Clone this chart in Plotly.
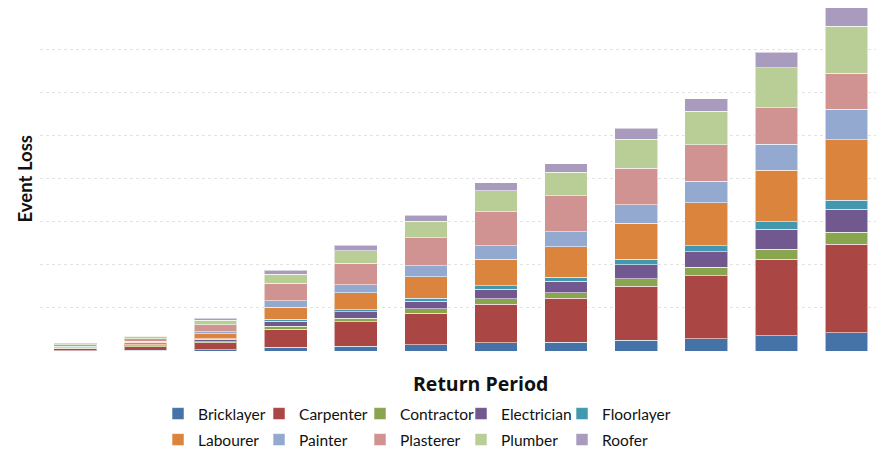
import plotly.graph_objects as go

return_periods = ["10", "20", "50", "100", "200", "250", "500", "1000", "2000", "5000", "10000", "20000"]

trades = ["Bricklayer", "Carpenter", "Contractor", "Electrician", "Floorlayer",
          "Labourer", "Painter", "Plasterer", "Plumber", "Roofer"]

bricklayer = [0.01, 0.02, 0.03, 0.09, 0.11, 0.14, 0.19, 0.20, 0.25, 0.29, 0.36, 0.42]
carpenter = [0.04, 0.08, 0.16, 0.42, 0.57, 0.74, 0.90, 1.03, 1.25, 1.46, 1.77, 2.06]
contractor = [0.01, 0.02, 0.03, 0.06, 0.08, 0.10, 0.12, 0.13, 0.18, 0.20, 0.24, 0.28]
electrician = [0.01, 0.02, 0.05, 0.12, 0.15, 0.18, 0.22, 0.26, 0.33, 0.36, 0.46, 0.53]
floorlayer = [0.005, 0.01, 0.02, 0.05, 0.05, 0.07, 0.09, 0.10, 0.12, 0.14, 0.17, 0.21]
labourer = [0.025, 0.05, 0.11, 0.28, 0.39, 0.50, 0.61, 0.70, 0.84, 1.00, 1.20, 1.41]
painter = [0.015, 0.03, 0.05, 0.15, 0.19, 0.25, 0.32, 0.35, 0.43, 0.50, 0.61, 0.71]
plasterer = [0.03, 0.06, 0.16, 0.40, 0.50, 0.65, 0.79, 0.84, 0.85, 0.85, 0.85, 0.84]
plumber = [0.025, 0.05, 0.11, 0.21, 0.29, 0.39, 0.48, 0.54, 0.67, 0.77, 0.92, 1.09]
roofer = [0.01, 0.02, 0.04, 0.10, 0.13, 0.14, 0.19, 0.20, 0.26, 0.29, 0.36, 0.43]

series = [bricklayer, carpenter, contractor, electrician, floorlayer,
          labourer, painter, plasterer, plumber, roofer]

colors = ["#4572A7", "#AA4643", "#89A54E", "#71588F", "#4198AF",
          "#DB843D", "#93A9CF", "#D19392", "#B9CD96", "#A99BBD"]

fig = go.Figure()
for i, (name, vals, col) in enumerate(zip(trades, series, colors)):
    fig.add_trace(go.Bar(
        x=return_periods, y=vals, name=name,
        marker=dict(color=col, line=dict(color="rgba(255,255,255,0.55)", width=1)),
        legend="legend" if i < 5 else "legend2",
    ))

# invisible spacer entry so the last item of the first legend row is not clipped
fig.add_trace(go.Scatter(x=[None], y=[None], mode="markers", name=" ",
                         marker=dict(color="rgba(0,0,0,0)"), legend="legend",
                         hoverinfo="skip"))

legend_common = dict(
    orientation="h", xanchor="left", yanchor="middle",
    xref="container", yref="container",
    font=dict(family="Lato", size=15.5, color="#111111"),
    entrywidth=56, entrywidthmode="pixels",
    bgcolor="rgba(0,0,0,0)", traceorder="normal",
)

fig.update_layout(
    width=876, height=455,
    margin=dict(l=40, r=0, t=6, b=104),
    barmode="stack", bargap=0.39,
    plot_bgcolor="white", paper_bgcolor="white",
    font=dict(family="Lato"),
    xaxis=dict(showticklabels=False, showgrid=False, zeroline=False, showline=False,
               ticks="", automargin=False, range=[-0.504, 11.42]),
    yaxis=dict(range=[0, 8.02], dtick=1, showticklabels=False, showgrid=True,
               gridcolor="#E2E2E2", griddash="dot", gridwidth=1,
               zeroline=False, showline=False, ticks="", automargin=False),
    legend=dict(x=0.1804, y=0.0901, **legend_common),
    legend2=dict(x=0.1804, y=0.033, **legend_common),
    annotations=[
        dict(text="<b>Event Loss</b>", x=-0.018, y=0.5, xref="paper", yref="paper",
             xanchor="center", yanchor="middle",
             textangle=-90, showarrow=False, font=dict(family="Lato", size=18.5, color="#111111")),
        dict(text="<b>Return Period</b>", x=0.5275, y=-0.093, xref="paper", yref="paper",
             xanchor="center", yanchor="middle",
             showarrow=False, font=dict(family="Open Sans", size=19.5, color="#111111")),
    ],
)

fig.write_html("out.html",
               config={"displayModeBar": False},
               post_script="document.body.style.margin='0px';document.body.style.overflow='hidden';")
